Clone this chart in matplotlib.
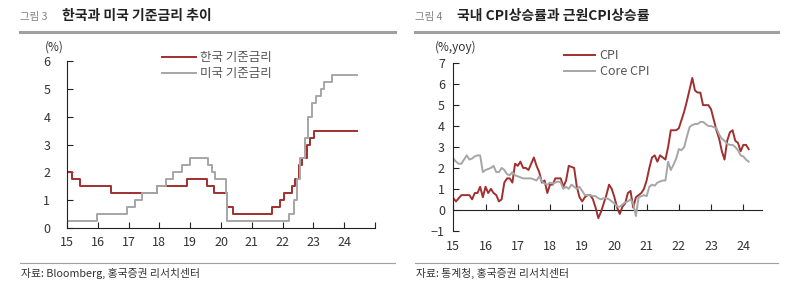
import numpy as np
import matplotlib
matplotlib.use('Agg')
import matplotlib.pyplot as plt
from matplotlib.lines import Line2D

plt.rcParams['font.family'] = ['Noto Sans CJK KR', 'DejaVu Sans']

# 기준금리 (변경 시점, 금리) - 15 = 2015년 1월
kr_dates = [15.0, 15.17, 15.42, 16.43, 17.92, 18.9, 19.53, 19.77, 20.2, 20.4,
            21.67, 21.92, 22.03, 22.3, 22.4, 22.52, 22.64, 22.78, 22.9, 23.03, 24.42]
kr_rates = [2.0, 1.75, 1.5, 1.25, 1.5, 1.75, 1.5, 1.25, 0.75, 0.5,
            0.75, 1.0, 1.25, 1.5, 1.75, 2.25, 2.5, 3.0, 3.25, 3.5, 3.5]
us_dates = [15.0, 15.96, 16.96, 17.22, 17.44, 17.93, 18.2, 18.45, 18.72, 18.98,
            19.57, 19.7, 19.82, 20.17, 20.21, 22.2, 22.37, 22.47, 22.57, 22.72,
            22.83, 22.97, 23.1, 23.24, 23.36, 23.6, 24.42]
us_rates = [0.25, 0.5, 0.75, 1.0, 1.25, 1.5, 1.75, 2.0, 2.25, 2.5,
            2.25, 2.0, 1.75, 1.25, 0.25, 0.5, 1.0, 1.75, 2.5, 3.25,
            4.0, 4.5, 4.75, 5.0, 5.25, 5.5, 5.5]

# 월별 CPI 상승률 (2015.1 ~)
cpi = [0.55, 0.4, 0.55, 0.7, 0.7, 0.7, 0.7, 0.5, 0.8, 0.8, 1.1, 0.6,
       1.1, 0.8, 1.0, 0.8, 0.7, 0.4, 0.5, 1.3, 1.5, 1.5, 1.3, 2.2,
       2.1, 2.3, 2.0, 2.0, 1.9, 2.2, 2.5, 2.1, 1.8, 1.3, 1.4, 0.8,
       1.2, 1.2, 1.5, 1.5, 1.5, 1.1, 1.4, 2.1, 2.05, 2.0, 1.1, 0.6,
       0.4, 0.6, 0.7, 0.7, 0.5, 0.1, -0.4, -0.1, 0.3, 0.7, 1.2, 1.0,
       0.6, 0.1, -0.2, 0.15, 0.3, 0.8, 0.9, 0.1, 0.6, 0.7, 0.8, 1.0,
       1.4, 2.0, 2.5, 2.6, 2.3, 2.6, 2.5, 2.4, 3.0, 3.8, 3.8, 3.8,
       3.9, 4.3, 4.7, 5.2, 5.75, 6.3, 5.7, 5.6, 5.6, 5.0, 5.0, 5.0,
       4.8, 4.3, 3.8, 3.4, 2.8, 2.4, 3.3, 3.7, 3.8, 3.3, 3.2, 2.8,
       3.1, 3.1, 2.9]
core = [2.45, 2.3, 2.2, 2.2, 2.4, 2.6, 2.4, 2.45, 2.55, 2.6, 2.6, 1.8,
        1.9, 1.95, 2.0, 2.1, 1.8, 1.8, 2.0, 1.9, 1.7, 1.65, 1.8, 1.65,
        1.6, 1.55, 1.5, 1.5, 1.5, 1.5, 1.45, 1.4, 1.6, 1.35, 1.25, 1.2,
        1.3, 1.25, 1.3, 1.35, 1.3, 1.0, 1.1, 1.0, 1.2, 1.1, 1.0, 1.1,
        0.9, 0.7, 0.7, 0.7, 0.65, 0.65, 0.55, 0.5, 0.55, 0.55, 0.5, 0.4,
        0.3, 0.15, 0.15, 0.25, 0.35, 0.4, 0.5, 0.3, -0.3, 0.6, 0.65, 0.7,
        0.65, 1.1, 1.2, 1.15, 1.3, 1.35, 1.4, 1.4, 2.3, 1.9, 2.15, 2.45,
        2.9, 2.85, 3.0, 3.5, 3.95, 4.05, 4.1, 4.1, 4.2, 4.2, 4.1, 4.0,
        4.0, 3.95, 3.9, 3.6, 3.4, 3.3, 3.15, 3.1, 3.1, 3.0, 2.85, 2.6,
        2.55, 2.4, 2.3]
months = 15 + np.arange(len(cpi)) / 12

year_ticks = list(range(15, 25))
year_labels = [str(y) for y in year_ticks]

RED = '#A0302F'
GRAY = '#A6A6A6'
TXT = '#333333'

W, H = 810, 283
fig = plt.figure(figsize=(W / 100, H / 100), dpi=100)


def fx(px):
    return px / W


def fy(py):
    return 1 - py / H


# 제목, 구분선, 출처
for x0, x1, num, title, src in [(20, 395, '그림 3', '한국과 미국 기준금리 추이', '자료: Bloomberg, 홍국증권 리서치센터'),
                                (415, 778, '그림 4', '국내 CPI상승률과 근원CPI상승률', '자료: 통계청, 홍국증권 리서치센터')]:
    fig.text(fx(x0), fy(17), num, fontsize=7.5, color='#808080', va='center')
    fig.text(fx(x0 + 42), fy(16), title, fontsize=10, color='#222222', va='center', fontweight='bold')
    fig.add_artist(Line2D([fx(x0), fx(x1)], [fy(32), fy(32)], color='#A0A0A0', lw=2.2))
    fig.add_artist(Line2D([fx(x0), fx(x1)], [fy(263), fy(263)], color='#A0A0A0', lw=0.8))
    fig.text(fx(x0 + 1), fy(273), src, fontsize=7.8, color='#333333', va='center')


def style(ax, ypad):
    for s in ['top', 'right']:
        ax.spines[s].set_visible(False)
    ax.spines['left'].set_color('#222222')
    ax.spines['bottom'].set_color('#222222')
    ax.tick_params(axis='both', direction='in', length=4, width=0.8, colors='#222222',
                   labelsize=9, labelcolor=TXT, pad=6)
    ax.tick_params(axis='y', pad=ypad)


# 왼쪽: 기준금리
ax1 = fig.add_axes([fx(67), fy(228), fx(375 - 67), (228 - 61) / H])
ax1.plot(kr_dates, kr_rates, drawstyle='steps-post', color=RED, lw=1.4, label='한국 기준금리')
ax1.plot(us_dates, us_rates, drawstyle='steps-post', color=GRAY, lw=1.4, label='미국 기준금리')
ax1.set_xlim(15, 25)
ax1.set_ylim(0, 6)
ax1.set_xticks(year_ticks + [25])
ax1.set_xticklabels(year_labels + [''])
ax1.set_yticks(range(0, 7))
style(ax1, 12)
ax1.tick_params(axis='x', pad=6)
fig.text(fx(45), fy(47), '(%)', fontsize=8.5, color=TXT, va='center')
ax1.legend(loc='upper left', bbox_to_anchor=(fx(162), fy(51)), bbox_transform=fig.transFigure,
           frameon=False, fontsize=9, handlelength=2.7, handletextpad=0.35,
           labelspacing=0.25, borderpad=0, borderaxespad=0, labelcolor='#555555')

# 오른쪽: CPI
ax2 = fig.add_axes([fx(453.3), fy(230.7), fx(762 - 453.3), (230.7 - 63.3) / H])
ax2.plot(months, cpi, color=RED, lw=1.4, label='CPI')
ax2.plot(months, core, color=GRAY, lw=1.4, label='Core CPI')
ax2.set_xlim(15, 24.58)
ax2.set_ylim(-1, 7)
ax2.set_yticks(range(-1, 8))
ax2.set_yticklabels(['\u22121'] + [str(v) for v in range(0, 8)])
ax2.set_xticks(year_ticks)
ax2.set_xticklabels(year_labels)
style(ax2, 6)
ax2.spines['bottom'].set_visible(False)
ax2.tick_params(axis='x', length=0, pad=7)
zero_axis = ax2.secondary_xaxis(1 / 8)
zero_axis.set_xticks(year_ticks)
zero_axis.tick_params(axis='x', direction='in', length=4, width=0.8, colors='#222222', labelbottom=False)
zero_axis.spines['bottom'].set_color('#222222')
fig.text(fx(435), fy(47), '(%,yoy)', fontsize=8.5, color=TXT, va='center')
ax2.legend(loc='upper left', bbox_to_anchor=(fx(564), fy(49)), bbox_transform=fig.transFigure,
           frameon=False, fontsize=9, handlelength=2.5, handletextpad=0.35,
           labelspacing=0.25, borderpad=0, borderaxespad=0, labelcolor='#555555')

fig.savefig('out.png', dpi=100)
